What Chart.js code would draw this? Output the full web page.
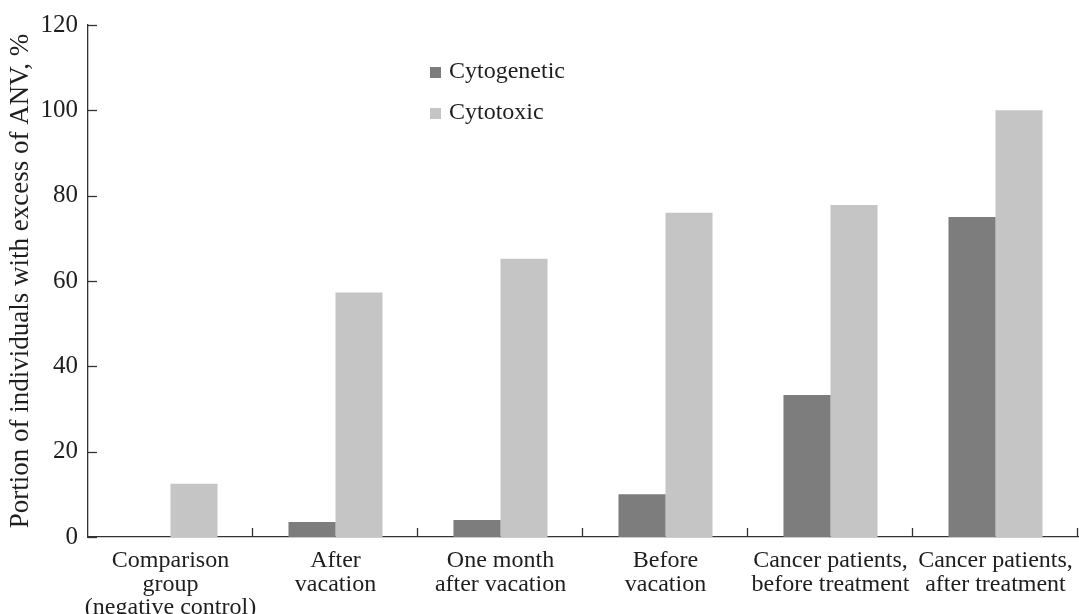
<!DOCTYPE html>
<html>
<head>
<meta charset="utf-8">
<script src="https://cdn.jsdelivr.net/npm/chart.js@4.4.0/dist/chart.umd.min.js"></script>
<style>
    html, body { margin: 0; padding: 0; background: #ffffff; }
    #wrap { width: 1079px; height: 614px; position: relative; }
</style>
</head>
<body>
<div id="wrap"><canvas id="myChart"></canvas></div>
<script>
/*** Datos ***/
const categorias = [
    ['Comparison', 'group', '(negative control)'],
    ['After', 'vacation'],
    ['One month', 'after vacation'],
    ['Before', 'vacation'],
    ['Cancer patients,', 'before treatment'],
    ['Cancer patients,', 'after treatment']
];
const serieNombres = ['Cytogenetic', 'Cytotoxic'];
const cytogenetic = [0, 3.5, 4, 10, 33.3, 75];
const cytotoxic = [12.5, 57.3, 65.2, 76, 77.8, 100];
const yTicks = [0, 20, 40, 60, 80, 100, 120];

const colorOscuro = '#7d7d7d';
const colorClaro = '#c4c5c4';
const colorTexto = '#1e1e1e';
const fuente = "'Liberation Serif', 'Times New Roman', serif";

/*** Ticks hacia adentro y leyenda dentro del área ***/
const ejesPlugin = {
    id: 'ejesPlugin',
    afterDraw(chart) {
        const ctx = chart.ctx;
        const area = chart.chartArea;
        const y = chart.scales.y;
        ctx.save();
        ctx.strokeStyle = '#333333';
        ctx.lineWidth = 1.3;
        // ticks del eje y
        yTicks.forEach(function (v) {
            let py = Math.round(y.getPixelForValue(v)) + 0.5;
            ctx.beginPath();
            ctx.moveTo(area.left, py);
            ctx.lineTo(area.left + 9, py);
            ctx.stroke();
        });
        // ticks del eje x en los límites de categoría
        let n = categorias.length;
        let w = (area.right - area.left) / n;
        for (let i = 1; i <= n; i++) {
            let px = Math.round(area.left + i * w) - 0.5;
            ctx.beginPath();
            ctx.moveTo(px, area.bottom);
            ctx.lineTo(px, area.bottom - 9);
            ctx.stroke();
        }
        // leyenda
        ctx.font = '24px ' + fuente;
        ctx.textBaseline = 'middle';
        chart.data.datasets.forEach(function (ds, i) {
            let bx = area.left + 342;
            let by = area.top + 42 + i * 41;
            ctx.fillStyle = ds.backgroundColor;
            ctx.fillRect(bx, by, 11, 11);
            ctx.fillStyle = colorTexto;
            ctx.fillText(ds.label, bx + 19, by + 5);
        });
        ctx.restore();
    }
};

let ctx = document.getElementById('myChart').getContext('2d');
let grafica = new Chart(ctx, {
    type: 'bar',
    data: {
        labels: categorias,
        datasets: [
            {
                label: serieNombres[0],
                data: cytogenetic,
                backgroundColor: colorOscuro,
                borderWidth: 0
            },
            {
                label: serieNombres[1],
                data: cytotoxic,
                backgroundColor: colorClaro,
                borderWidth: 0
            }
        ]
    },
    options: {
        responsive: true,
        maintainAspectRatio: false,
        animation: false,
        layout: {
            padding: { top: 25, right: 1, left: 0, bottom: 0 }
        },
        datasets: {
            bar: {
                categoryPercentage: 0.57,
                barPercentage: 1.0
            }
        },
        plugins: {
            legend: { display: false },
            tooltip: { enabled: false }
        },
        scales: {
            x: {
                grid: { display: false },
                border: { display: true, color: '#333333', width: 1.3 },
                ticks: {
                    color: colorTexto,
                    font: { family: fuente, size: 24, lineHeight: 0.98 },
                    padding: 4,
                    maxRotation: 0,
                    autoSkip: false
                },
                afterFit: function (scale) {
                    scale.height = 77;
                }
            },
            y: {
                min: 0,
                max: 120,
                grid: { display: false },
                border: { display: true, color: '#333333', width: 1.3 },
                ticks: {
                    stepSize: 20,
                    color: colorTexto,
                    font: { family: fuente, size: 25 },
                    padding: 2
                },
                title: {
                    display: true,
                    text: 'Portion of individuals with excess of ANV, %',
                    color: colorTexto,
                    font: { family: fuente, size: 27 },
                    padding: { top: 5, bottom: 0 }
                },
                afterFit: function (scale) {
                    scale.width = 88;
                }
            }
        }
    },
    plugins: [ejesPlugin]
});
</script>
</body>
</html>
